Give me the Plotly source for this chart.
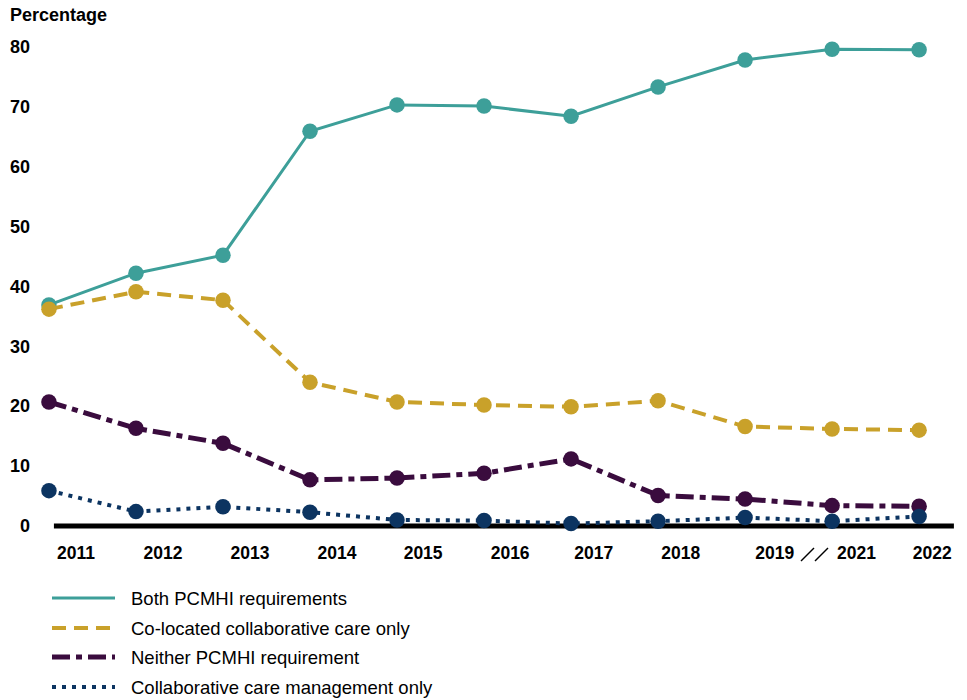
import plotly.graph_objects as go

years = ["2011", "2012", "2013", "2014", "2015", "2016", "2017", "2018", "2019", "2021", "2022"]
both_pcmhi = [36.9, 42.2, 45.2, 65.9, 70.3, 70.1, 68.4, 73.3, 77.8, 79.6, 79.5]
co_located = [36.2, 39.1, 37.7, 24.0, 20.7, 20.2, 19.9, 20.9, 16.6, 16.2, 16.0]
neither = [20.7, 16.3, 13.8, 7.7, 8.0, 8.8, 11.2, 5.1, 4.5, 3.4, 3.3]
collab_mgmt = [5.9, 2.4, 3.2, 2.3, 1.0, 0.9, 0.4, 0.8, 1.4, 0.8, 1.6]
y_ticks = [0, 10, 20, 30, 40, 50, 60, 70, 80]
series_names = ["Both PCMHI requirements", "Co-located collaborative care only",
                "Neither PCMHI requirement", "Collaborative care management only"]

W, H = 967, 700
FONT = "Liberation Sans, Arial, sans-serif"
colors = ["#3d9f99", "#c9a12a", "#3a0c3e", "#0c3461"]
dashes = ["solid", "14px,8px", "18px,6px,6px,6px", "4px,6px"]
widths = [3, 4, 5, 4]

xs = list(range(len(years)))
label_shift = [0.31, 0.31, 0.31, 0.31, 0.30, 0.30, 0.26, 0.26, 0.34, 0.28, 0.15]


def px(x):
    return x / W


def py(y):
    return 1 - y / H


fig = go.Figure()
for name, vals, c, d, w in zip(series_names, [both_pcmhi, co_located, neither, collab_mgmt], colors, dashes, widths):
    fig.add_trace(go.Scatter(
        x=xs, y=vals, name=name, mode="lines+markers",
        line=dict(color=c, width=w, dash=d),
        marker=dict(color=c, size=15.5),
        cliponaxis=False, showlegend=False,
    ))

shapes = []
# zero baseline
shapes.append(dict(type="line", xref="x", yref="y", x0=0.057, x1=10.40, y0=0, y1=0,
                   line=dict(color="black", width=5), layer="below"))
# axis break marks
shapes.append(dict(type="line", xref="paper", yref="paper", x0=px(801), x1=px(814), y0=py(561), y1=py(548),
                   line=dict(color="black", width=1.5)))
shapes.append(dict(type="line", xref="paper", yref="paper", x0=px(815), x1=px(828), y0=py(561), y1=py(548),
                   line=dict(color="black", width=1.5)))

annotations = [dict(text="<b>Percentage</b>", x=px(8), y=py(15), xref="paper", yref="paper",
                    xanchor="left", yanchor="middle", showarrow=False,
                    font=dict(family=FONT, size=18, color="black"))]

leg_y = [598, 628, 657, 687]
for name, c, d, w, ly in zip(series_names, colors, dashes, widths, leg_y):
    shapes.append(dict(type="line", xref="paper", yref="paper", x0=px(52), x1=px(115), y0=py(ly), y1=py(ly),
                       line=dict(color=c, width=w, dash=d)))
    annotations.append(dict(text=name, x=px(129), y=py(ly), xref="paper", yref="paper",
                            xanchor="left", yanchor="middle", showarrow=False,
                            font=dict(family=FONT, size=18.5, color="black")))

fig.update_layout(
    width=W, height=H,
    margin=dict(l=0, r=0, t=0, b=0),
    paper_bgcolor="white", plot_bgcolor="white",
    showlegend=False,
    xaxis=dict(domain=[px(40), px(960)], range=[-0.103, 10.47],
               tickvals=[i + s for i, s in zip(xs, label_shift)], ticktext=years,
               showgrid=False, zeroline=False, showline=False, ticks="",
               tickfont=dict(family=FONT, size=17.5, color="black", weight="bold")),
    yaxis=dict(domain=[py(540), py(30)], range=[-2.34, 82.8],
               tickvals=y_ticks, ticktext=[str(v) for v in y_ticks],
               showgrid=False, zeroline=False, showline=False, ticks="",
               ticklabelstandoff=9,
               tickfont=dict(family=FONT, size=18, color="black", weight="bold")),
    shapes=shapes, annotations=annotations,
)

fig.write_html("out.html")
